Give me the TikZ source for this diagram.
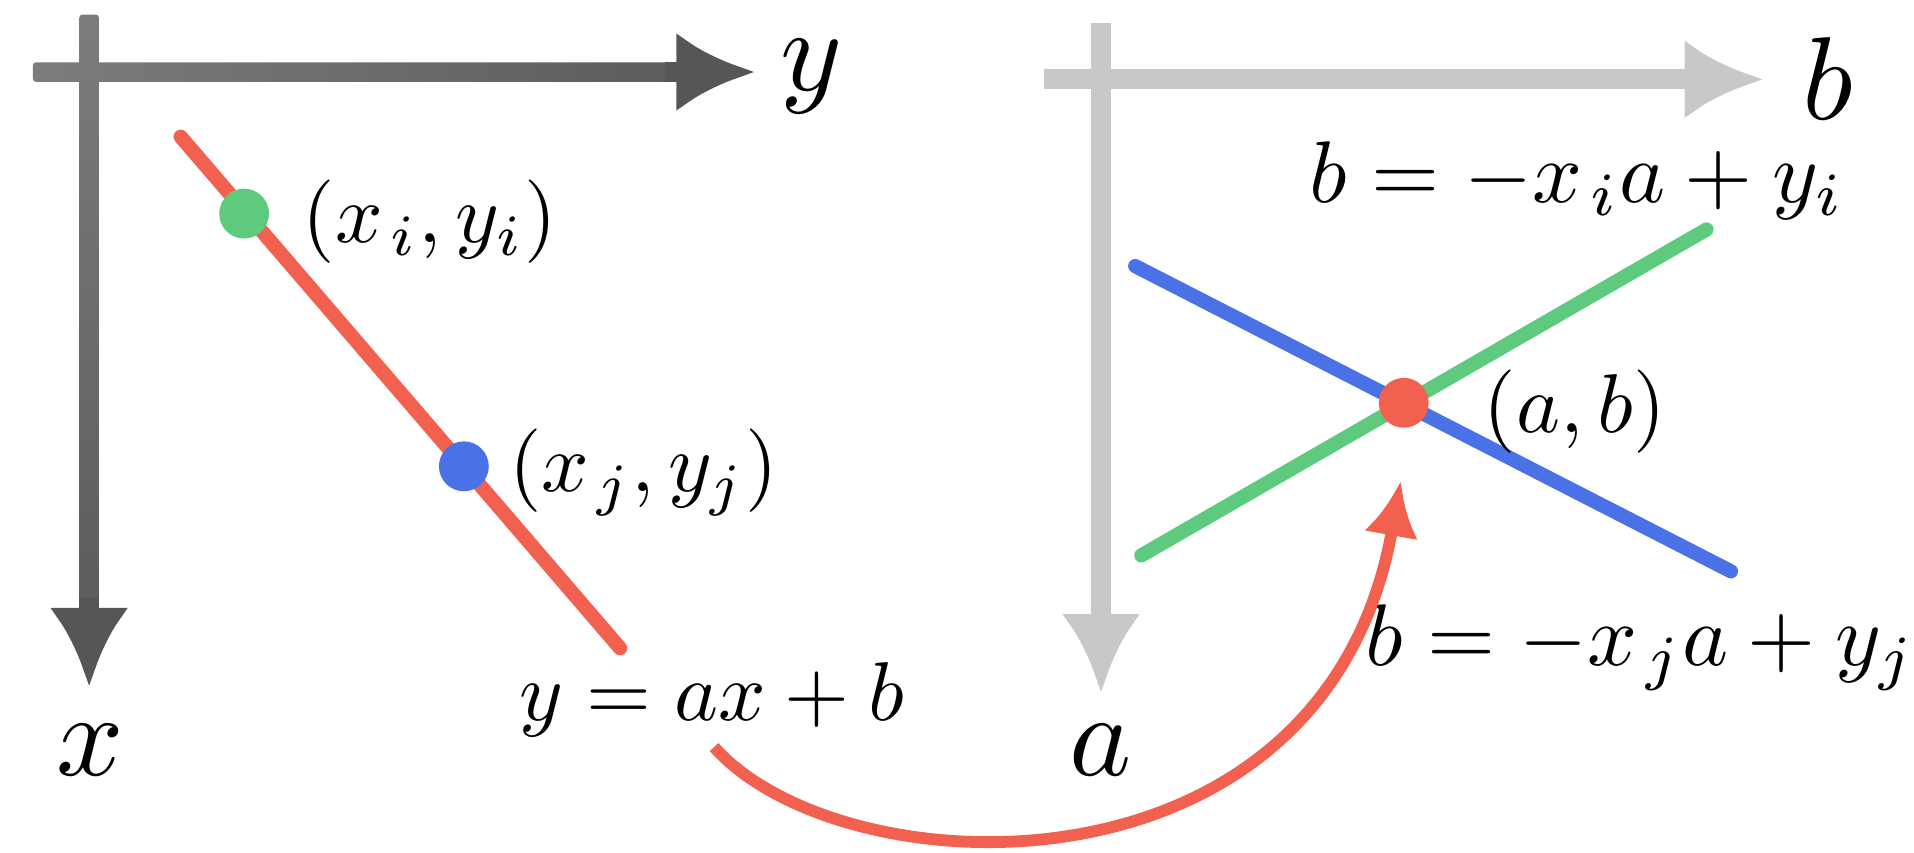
\documentclass[tikz,border=0pt]{standalone}
\usetikzlibrary{arrows.meta}
\definecolor{axdarkA}{RGB}{124,124,124}
\definecolor{axdarkB}{RGB}{92,92,92}
\definecolor{axhead}{RGB}{86,86,86}
\definecolor{axlight}{RGB}{200,200,200}
\definecolor{lred}{RGB}{242,97,80}
\definecolor{lgreen}{RGB}{93,202,126}
\definecolor{lblue}{RGB}{74,113,230}
\begin{document}
\begin{tikzpicture}[x=0.6pt,y=-0.6pt,
  axishead/.style={line width=9.8pt, -{Latex[length=39pt,width=39pt]}},
  plotline/.style={line width=7pt, line cap=round},
  dot/.style={circle, fill=#1, inner sep=0pt, minimum size=24.5pt},
  axlabel/.style={inner sep=0pt, scale=5.8},
  eqlabel/.style={inner sep=0pt, scale=4.1},
  biglabel/.style={inner sep=0pt, scale=4.3},
  maparrow/.style={line width=5.8pt, draw=lred, -{Latex[length=27pt,width=27pt]}}
]
\useasboundingbox (0,0) rectangle (1568,698);
% left axes
\shade[top color=axdarkA, bottom color=axdarkB, rounded corners=1.5pt] (65,12) rectangle (81,505);
\coordinate (lxS) at (73,490);
\coordinate (lxE) at (73,563);
\draw[axishead, draw=axhead, fill=axhead] (lxS) -- (lxE);
\shade[left color=axdarkA, right color=axdarkB, rounded corners=1.5pt] (27,51) rectangle (560,67);
\coordinate (lyS) at (545,59);
\coordinate (lyE) at (619,59);
\draw[axishead, draw=axhead, fill=axhead] (lyS) -- (lyE);
\node[axlabel, anchor=base] (ylab) at (665,74) {$y$};
\node[axlabel, anchor=base] (xlab) at (74,635) {$x$};
% right axes
\coordinate (rbS) at (855,65);
\coordinate (rbE) at (1445,65);
\coordinate (raS) at (902,19);
\coordinate (raE) at (902,568);
\draw[axishead, draw=axlight, fill=axlight, rounded corners=1.5pt] (raS) -- (raE);
\draw[axishead, draw=axlight, fill=axlight, rounded corners=1.5pt] (rbS) -- (rbE);
\node[axlabel, anchor=base] (blab) at (1497,98) {$b$};
\node[axlabel, anchor=base] (alab) at (902,635) {$a$};
% left line and points
\coordinate (rl1) at (148,112);
\coordinate (rl2) at (508,531);
\draw[plotline, lred] (rl1) -- (rl2);
\node[dot=lgreen] (pi) at (200,175) {};
\node[dot=lblue] (pj) at (380,382) {};
\node[eqlabel, anchor=base] (pilab) at (352,199) {$(x_{\mkern2mu i}, y_i)$};
\node[eqlabel, anchor=base] (pjlab) at (527,403) {$(x_{\mkern2mu j}, y_j)$};
\node[eqlabel, anchor=base] (lineeq) at (583,590) {$y = ax + b$};
% right lines
\coordinate (bl1) at (930,218);
\coordinate (bl2) at (1418,468);
\coordinate (gl1) at (935,455);
\coordinate (gl2) at (1398,188);
\draw[plotline, lblue] (bl1) -- (bl2);
\draw[plotline, lgreen] (gl1) -- (gl2);
\node[dot=lred] (ab) at (1150,330) {};
\node[eqlabel, anchor=base] (ablab) at (1290,354) {$(a, b)$};
\node[biglabel, anchor=base] (eqi) at (1292,166) {$b = -x_{\mkern2mu i}a + y_i$};
\node[biglabel, anchor=base west] (eqj) at (1117,545) {$b = -x_{\mkern2mu j}a + y_j$};
% mapping arrow
\coordinate (mapS) at (585,612);
\draw[maparrow] (mapS) .. controls (690,730) and (1085,745) .. ([xshift=-1.5pt,yshift=-26pt]ab.south);
\end{tikzpicture}
\end{document}
